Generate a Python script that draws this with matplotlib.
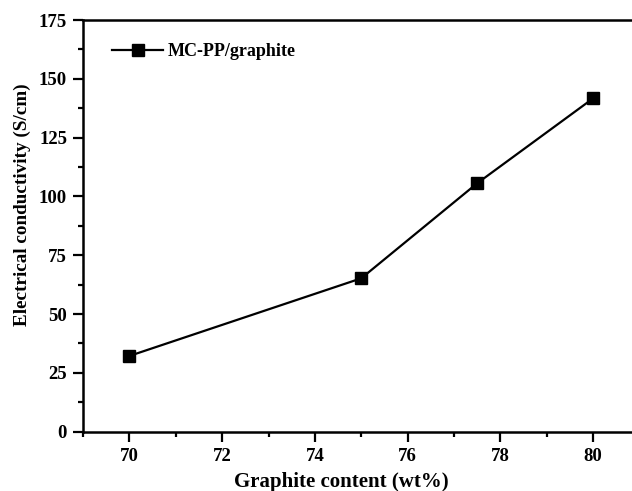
import matplotlib
matplotlib.use("Agg")
import matplotlib.pyplot as plt
from matplotlib.ticker import MultipleLocator

x_content = [70, 75, 77.5, 80]
conductivity = [32.2, 65.2, 105.6, 141.7]
series_label = "MC-PP/graphite"

plt.rcParams['font.family'] = ['Liberation Serif', 'DejaVu Serif']
plt.rcParams['font.weight'] = 'bold'

W, H = 632, 491
fig = plt.figure(figsize=(W/100, H/100), dpi=100)
ax_l, ax_r, ax_t, ax_b = 83, 639.5, 20, 431.7
ax = fig.add_axes([ax_l/W, (H-ax_b)/H, (ax_r-ax_l)/W, (ax_b-ax_t)/H])

ax.plot(x_content, conductivity, color='black', lw=1.6, marker='s', ms=8.8,
        label=series_label)

ax.set_xlim(69, 81)
ax.set_ylim(0, 175)
ax.xaxis.set_major_locator(MultipleLocator(2))
ax.xaxis.set_minor_locator(MultipleLocator(1))
ax.yaxis.set_major_locator(MultipleLocator(25))
ax.yaxis.set_minor_locator(MultipleLocator(12.5))

for s in ax.spines.values():
    s.set_linewidth(1.8)
ax.tick_params(which='major', direction='out', length=7, width=1.6, labelsize=13.5)
ax.tick_params(which='minor', direction='out', length=3.8, width=1.6)
ax.tick_params(axis='x', which='major', pad=5)
ax.tick_params(axis='y', which='major', pad=4.5)
for lab in ax.get_xticklabels() + ax.get_yticklabels():
    lab.set_fontweight('bold')

fig.text(341/W, (H-487)/H, 'Graphite content (wt%)', fontsize=15, fontweight='bold',
         ha='center', va='baseline')
fig.text(22/W, (H-204.5)/H, 'Electrical conductivity (S/cm)', fontsize=13.8,
         fontweight='bold', ha='center', va='center', rotation=90)

leg = ax.legend(loc='center left', frameon=False, fontsize=13, handlelength=2.85,
                handletextpad=0.25, borderaxespad=0, borderpad=0,
                bbox_to_anchor=((112-ax_l)/(ax_r-ax_l), (ax_b-52)/(ax_b-ax_t)))
for t in leg.get_texts():
    t.set_fontweight('bold')

fig.savefig('out.png', dpi=100)
